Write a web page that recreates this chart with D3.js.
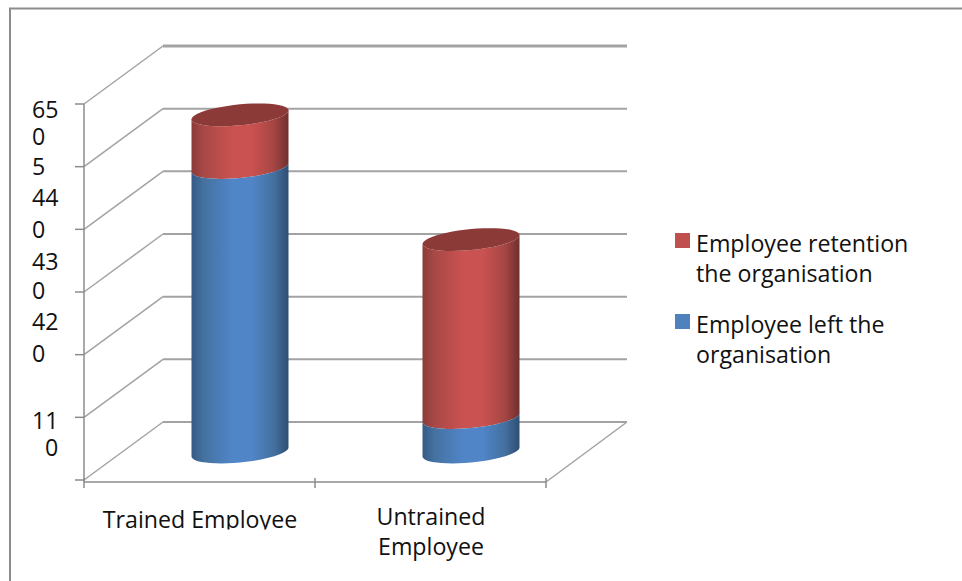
<!DOCTYPE html>
<html>
<head>
<meta charset="utf-8">
<script src="https://cdnjs.cloudflare.com/ajax/libs/d3/7.8.5/d3.min.js"></script>
<style>
html,body{margin:0;padding:0;background:#fff}
svg{display:block}
text{font-family:"Open Sans","Noto Sans",sans-serif;fill:#111}
</style>
</head>
<body>
<svg id="chart" width="962" height="581"></svg>
<script>
// Stacked cylinder chart: two employee groups, two stacked series.
const categories = ["Trained Employee", "Untrained Employee"];
const categoryLines = [["Trained Employee"], ["Untrained", "Employee"]];
const employeeLeft = [4.54, 0.55];
const employeeRetention = [0.84, 2.84];
const tickValues = [0, 1, 2, 3, 4, 5, 6];
const axisLabelLines = ["65", "0", "5", "44", "0", "43", "0", "42", "0", "11", "0"];
const legendColors = ["#c0504d", "#4f81bd"];
const legendLines = [["Employee retention", "the organisation"], ["Employee left the", "organisation"]];

const svg = d3.select("#chart");
const fontSize = 23.2;

// Projection of the chart box: front plane plus a fixed depth offset.
const frontLeft = 84, frontRight = 546, frontBase = 480, depthX = 79, depthY = -58;
const y = d3.scaleLinear().domain([0, 6]).range([frontBase, 104]);
const x = d3.scaleBand().domain(categories).range([frontLeft, frontRight]);
const gridColor = "#a3a3a3";

// Figure frame: only the top and left edges are ruled.
svg.append("path")
  .attr("d", d3.line()([[10, 581], [10, 8.5], [962, 8.5]]))
  .attr("fill", "none").attr("stroke", "#8c8c8c").attr("stroke-width", 2);

// Side-wall diagonals are thin, back-wall lines heavier.
const grid = svg.append("g").attr("fill", "none").attr("stroke", gridColor);
grid.selectAll(".side").data(tickValues).join("line").attr("class", "side")
  .attr("stroke-width", 1.5)
  .attr("x1", frontLeft).attr("y1", d => y(d))
  .attr("x2", frontLeft + depthX).attr("y2", d => y(d) + depthY);
grid.selectAll(".back").data(tickValues).join("line").attr("class", "back")
  .attr("stroke-width", d => d === 6 ? 3 : 2)
  .attr("x1", frontLeft + depthX).attr("y1", d => y(d) + depthY)
  .attr("x2", frontRight + depthX + 2).attr("y2", d => y(d) + depthY);

// Return of the floor from the front edge to the back wall.
grid.append("line").attr("stroke-width", 1.5)
  .attr("x1", frontRight).attr("y1", frontBase + 2)
  .attr("x2", frontRight + depthX + 2).attr("y2", frontBase + depthY);

// Value axis and category axis on the front plane.
const axes = svg.append("g").attr("stroke", "#8c8c8c").attr("stroke-width", 1.5).attr("fill", "none");
axes.append("line").attr("x1", frontLeft).attr("x2", frontLeft).attr("y1", y(6)).attr("y2", frontBase + 2);
axes.append("line").attr("x1", frontLeft).attr("x2", frontRight).attr("y1", frontBase + 2).attr("y2", frontBase + 2);
axes.selectAll(".ytick").data(tickValues).join("line").attr("class", "ytick")
  .attr("x1", frontLeft - 9).attr("x2", frontLeft).attr("y1", d => y(d)).attr("y2", d => y(d));
axes.selectAll(".xtick").data([frontLeft, x(categories[1]), frontRight]).join("line").attr("class", "xtick")
  .attr("x1", d => d).attr("x2", d => d).attr("y1", frontBase - 2).attr("y2", frontBase + 8);

// Horizontal shading that gives the cylinders their round look.
const defs = svg.append("defs");
function shade(id, stops) {
  const g = defs.append("linearGradient").attr("id", id);
  stops.forEach(([o, c]) => g.append("stop").attr("offset", o).attr("stop-color", c));
}
shade("blueSide", [[0, "#355a85"], [0.12, "#44719f"], [0.42, "#5085c8"], [0.62, "#5085c8"], [0.85, "#44709f"], [1, "#2f4e74"]]);
shade("redSide", [[0, "#8a3b39"], [0.12, "#a84846"], [0.42, "#ca5250"], [0.62, "#ca5250"], [0.85, "#a54644"], [1, "#6f2f2e"]]);

// Cylinder geometry: tilted elliptical ends sampled around the ring.
const rx = 48.5, ry = 10.5, tilt = 4.5;
const centers = [240, 471];
const baseY = 452;
const ring = (cx, cy, t) => [cx + rx * Math.cos(t), cy + ry * Math.sin(t) - tilt * Math.cos(t)];
const angles = d3.range(0, 49).map(i => Math.PI * 2 * i / 48);
const lowerAngles = angles.filter(t => t <= Math.PI + 1e-6);
const unit = y(0) - y(1);

function side(cx, yBottom, yTop) {
  const lower = lowerAngles.map(t => ring(cx, yBottom, t));
  const upper = lowerAngles.slice().reverse().map(t => ring(cx, yTop, t));
  return d3.line()(lower.concat(upper)) + "Z";
}
const endCap = (cx, cy) => d3.line()(angles.map(t => ring(cx, cy, t))) + "Z";

const bars = svg.append("g");
categories.forEach((c, i) => {
  const cx = centers[i];
  const leftTop = baseY - employeeLeft[i] * unit;
  const total = baseY - (employeeLeft[i] + employeeRetention[i]) * unit;
  bars.append("path").attr("d", side(cx, leftTop, total)).attr("fill", "url(#redSide)");
  bars.append("path").attr("d", side(cx, baseY, leftTop)).attr("fill", "url(#blueSide)");
  bars.append("path").attr("d", endCap(cx, total)).attr("fill", "#8c3a38");
});

// Value axis labels, wrapped into narrow stacked lines.
const axisLabelCenters = [110, 137, 167, 198, 230, 262, 291, 322, 354, 421, 448];
svg.append("g").selectAll("text").data(axisLabelLines).join("text")
  .attr("x", (d, i) => i === axisLabelLines.length - 1 ? 45 : 32)
  .attr("y", (d, i) => axisLabelCenters[i]).attr("dy", "0.36em")
  .attr("font-size", fontSize).text(d => d);

// Category labels; the first one is trimmed by the lower edge of its box.
defs.append("clipPath").attr("id", "firstLabelClip").append("rect")
  .attr("x", 90).attr("y", 500).attr("width", 220).attr("height", 29.5);
categoryLines.forEach((lines, i) => {
  const g = svg.append("g");
  if (i === 0) g.attr("clip-path", "url(#firstLabelClip)");
  const cx = i === 0 ? 200 : 431;
  const first = i === 0 ? 528 : 525;
  lines.forEach((line, j) => g.append("text")
    .attr("x", cx).attr("y", first + j * 30).attr("text-anchor", "middle")
    .attr("font-size", fontSize).text(line));
});

// Legend.
const legend = svg.append("g");
legendLines.forEach((lines, i) => {
  const top = 233 + i * 81;
  legend.append("rect").attr("x", 675).attr("y", top).attr("width", 15).attr("height", 15).attr("fill", legendColors[i]);
  lines.forEach((line, j) => legend.append("text")
    .attr("x", 696).attr("y", top + 19 + j * 30).attr("font-size", fontSize).text(line));
});
</script>
</body>
</html>
